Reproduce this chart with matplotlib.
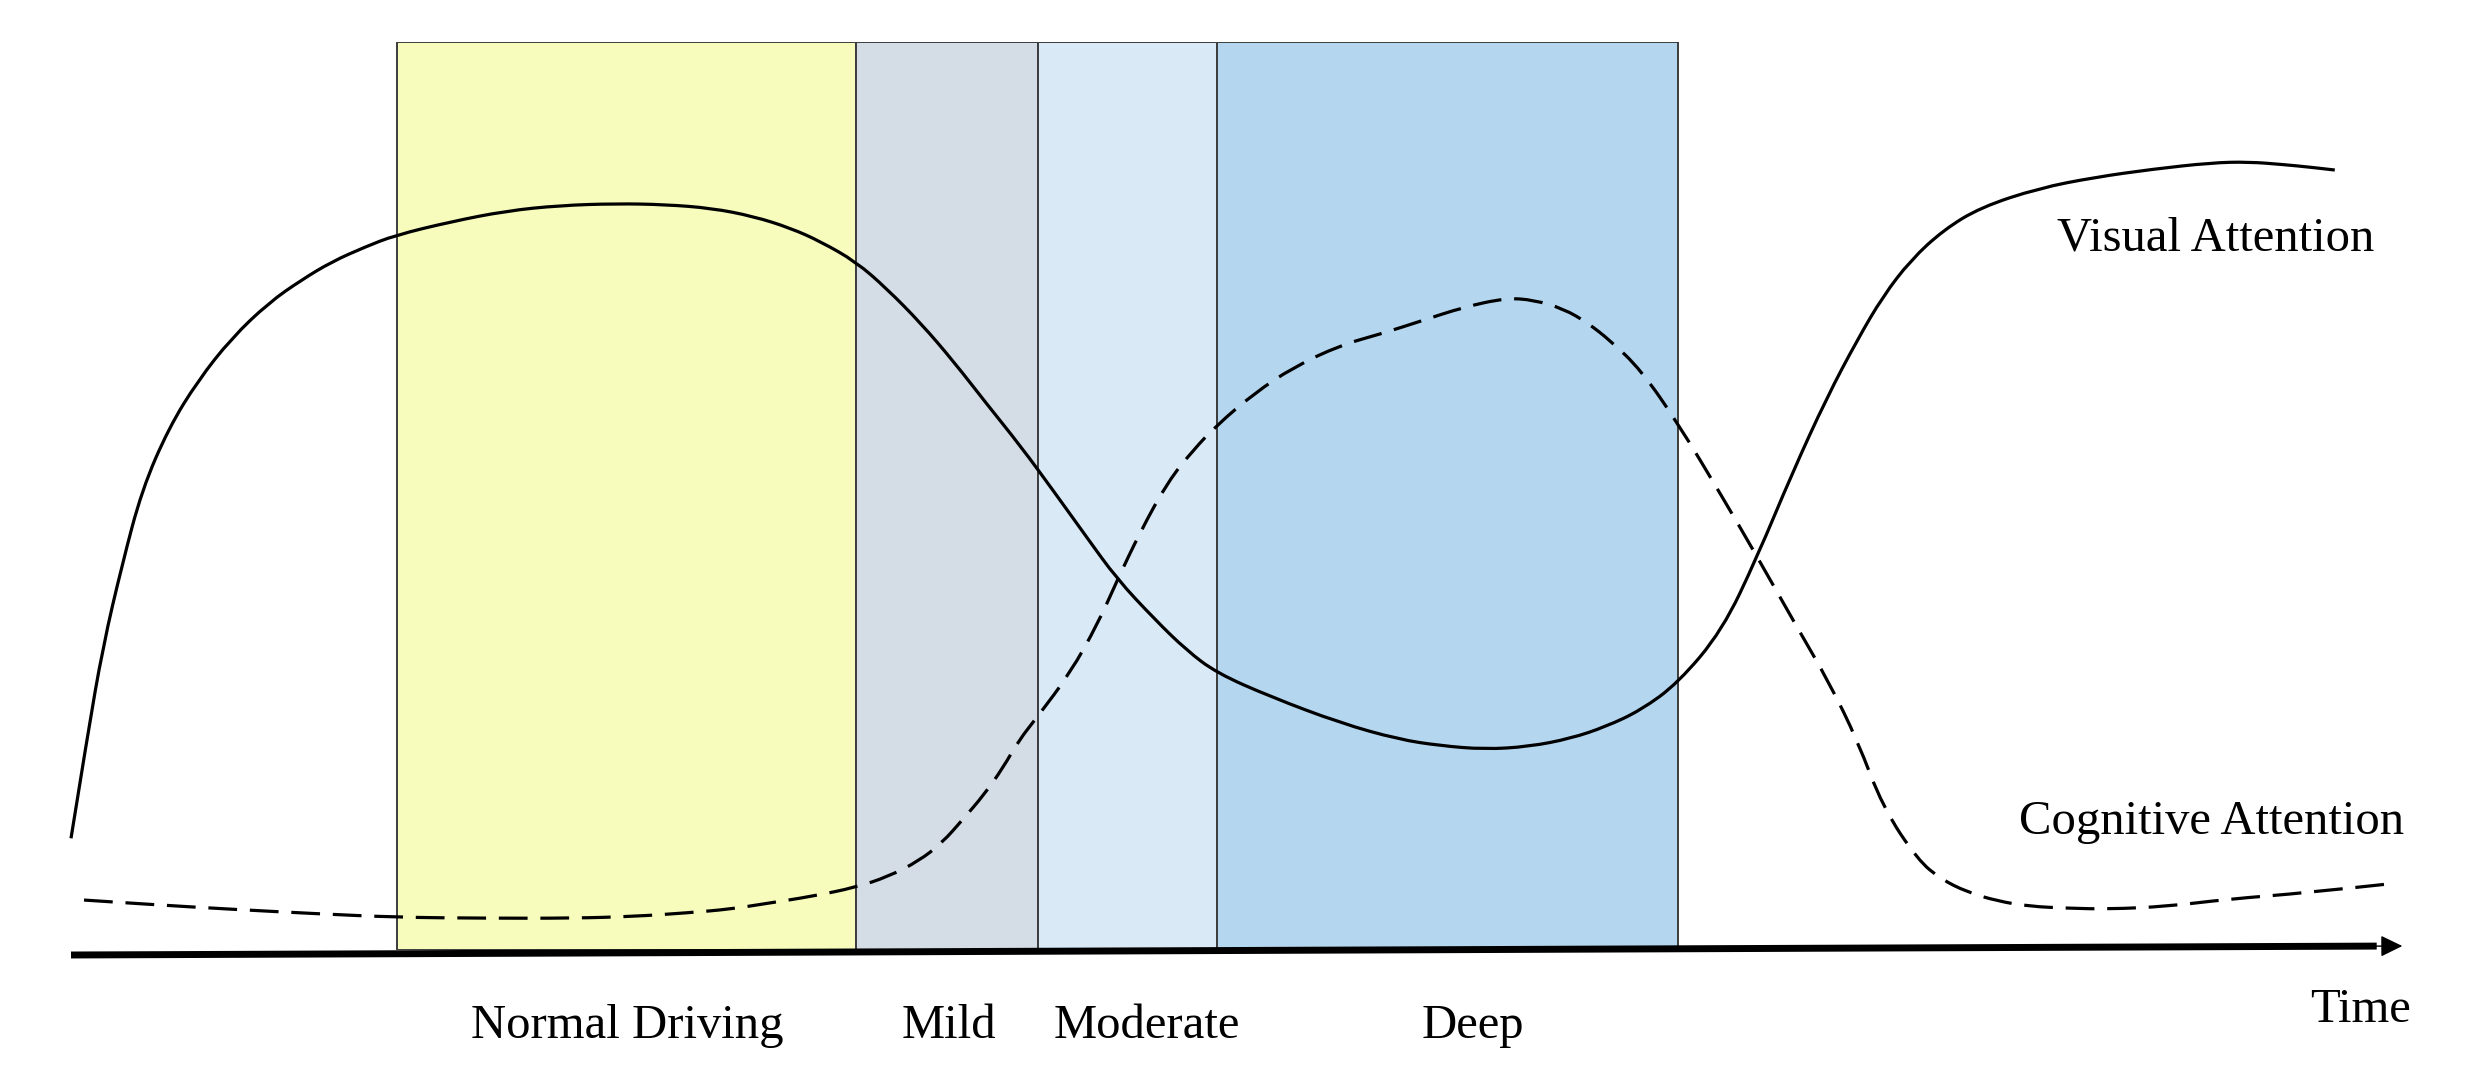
import numpy as np
import matplotlib
matplotlib.use("Agg")
import matplotlib.pyplot as plt
from matplotlib.path import Path
from matplotlib.patches import PathPatch

plt.rcParams['font.family'] = ['Liberation Serif', 'DejaVu Serif']

# stages of distraction (time in % of the horizontal axis)
stage_names = ['Normal Driving', 'Mild', 'Moderate', 'Deep']
stage_start = [14.0, 33.7, 41.5, 49.2]
stage_end = [33.7, 41.5, 49.2, 69.0]
stage_colors = ['#f7fbbb', '#d4dce6', '#d9e9f6', '#b4d7ef']

# visual attention (solid curve)
visual_t = [0.0, 0.7, 1.37, 2.2, 3.05, 4.2, 5.45, 6.9, 8.5, 9.9, 11.2, 12.6, 13.9,
            16.3, 18.7, 21.0, 23.4, 25.5, 27.5, 29.3, 30.9, 32.2, 33.7, 35.0,
            36.5, 37.9, 39.3, 40.8, 42.2, 43.6, 44.9, 46.5, 47.9, 49.2, 51.5,
            54.5, 57.0, 58.8, 60.7, 62.6, 64.4, 65.9, 67.4, 69.0, 70.9, 72.4,
            73.9, 75.4, 76.7, 77.8, 79.0, 80.4, 82.0, 84.5, 86.9, 89.4, 91.9,
            93.5, 95.0, 96.2, 97.2]
visual_v = [12.3, 23.5, 33.4, 42.5, 50.7, 57.5, 62.7, 67.4, 71.3, 73.8, 75.8, 77.4, 78.7,
            80.2, 81.4, 82.0, 82.2, 82.1, 81.7, 80.8, 79.5, 78.0, 75.8, 72.9,
            69.0, 64.8, 60.2, 55.4, 50.5, 45.5, 40.9, 36.5, 33.0, 30.5, 27.9,
            25.0, 23.2, 22.5, 22.1, 22.4, 23.3, 24.6, 26.4, 29.4, 35.2, 43.3,
            52.5, 60.9, 67.2, 72.0, 76.0, 79.3, 81.8, 83.9, 85.1, 86.0, 86.7,
            86.8, 86.5, 86.2, 85.9]

# cognitive attention (dashed curve)
cognitive_t = [0.56, 3.5, 6.8, 10.5, 14.0, 17.8, 21.6, 24.2, 26.5, 28.3, 29.8,
               31.8, 33.7, 35.1, 36.4, 37.4, 38.3, 39.2, 40.0, 40.7, 41.5, 42.9,
               44.1, 44.9, 45.9, 47.1, 48.2, 49.2, 50.8, 52.5, 54.5, 56.3,
               58.0, 59.8, 61.6, 62.8, 64.1, 65.1, 66.1, 67.4, 69.0, 70.9,
               72.4, 74.1, 75.5, 76.7, 77.8, 79.3, 80.3, 81.4, 82.7, 84.1, 85.8,
               87.5, 90.0, 92.6, 96.0, 99.6]
cognitive_v = [5.5, 5.0, 4.5, 4.0, 3.6, 3.5, 3.5, 3.7, 4.1, 4.5, 5.1,
               5.9, 6.9, 8.1, 9.8, 11.8, 14.4, 17.1, 20.0, 23.1, 25.7, 30.5,
               36.0, 40.6, 46.0, 51.6, 55.1, 57.8, 61.3, 64.2, 66.6, 67.9,
               69.3, 70.8, 71.8, 71.6, 70.6, 69.1, 67.1, 63.9, 58.0, 49.9,
               43.3, 35.6, 29.4, 23.1, 15.7, 9.9, 7.8, 6.4, 5.4, 4.8, 4.6,
               4.5, 4.8, 5.6, 6.3, 7.3]

# text layout (data coords)
stage_label_x = [23.9, 37.7, 46.2, 60.2]
stage_label_y = -9.7


def smooth_path(xs, ys):
    # read points used as control points of quadratic Bezier segments
    pts = np.column_stack([xs, ys])
    verts = [pts[0]]
    codes = [Path.MOVETO]
    for i in range(1, len(pts) - 1):
        end = pts[i + 1] if i == len(pts) - 2 else (pts[i] + pts[i + 1]) / 2
        verts += [pts[i], end]
        codes += [Path.CURVE3, Path.CURVE3]
    return Path(verts, codes)


fig = plt.figure(figsize=(24.77, 10.68), dpi=100)
ax = fig.add_axes([71 / 2477, 118 / 1068, 2329 / 2477, 908 / 1068])
ax.set_xlim(0, 100)
ax.set_ylim(0, 100)
ax.axis('off')

# stage bands
widths = [e - s for s, e in zip(stage_start, stage_end)]
ax.bar(stage_start, 100, width=widths, bottom=0, align='edge',
       color=stage_colors, edgecolor='#3c3c3c', linewidth=1.4, zorder=1)

# curves
ax.add_patch(PathPatch(smooth_path(visual_t, visual_v), fill=False,
                       edgecolor='black', lw=2.3, capstyle='butt',
                       zorder=3, clip_on=False))
ax.add_patch(PathPatch(smooth_path(cognitive_t, cognitive_v), fill=False,
                       edgecolor='black', lw=2.3, linestyle=(0, (9, 4)),
                       capstyle='butt', zorder=3, clip_on=False))

# time axis
ax.plot([0, 99.0], [-0.55, 0.43], color='black', lw=5, solid_capstyle='butt',
        zorder=4, clip_on=False)
ax.annotate('', xy=(100.1, 0.44), xytext=(98.4, 0.42),
            arrowprops=dict(arrowstyle='-|>,head_length=0.45,head_width=0.22',
                            mutation_scale=30, color='black', lw=1,
                            shrinkA=0, shrinkB=0),
            annotation_clip=False, zorder=5)

fs = 35
for name, x in zip(stage_names, stage_label_x):
    ax.text(x, stage_label_y, name, ha='center', va='baseline', fontsize=fs)
ax.text(98.3, -7.9, 'Time', ha='center', va='baseline', fontsize=fs)
ax.text(92.1, 77.0, 'Visual Attention', ha='center', va='baseline', fontsize=fs)
ax.text(91.9, 12.8, 'Cognitive Attention', ha='center', va='baseline', fontsize=fs)

fig.savefig('out.png', dpi=100, facecolor='white')
